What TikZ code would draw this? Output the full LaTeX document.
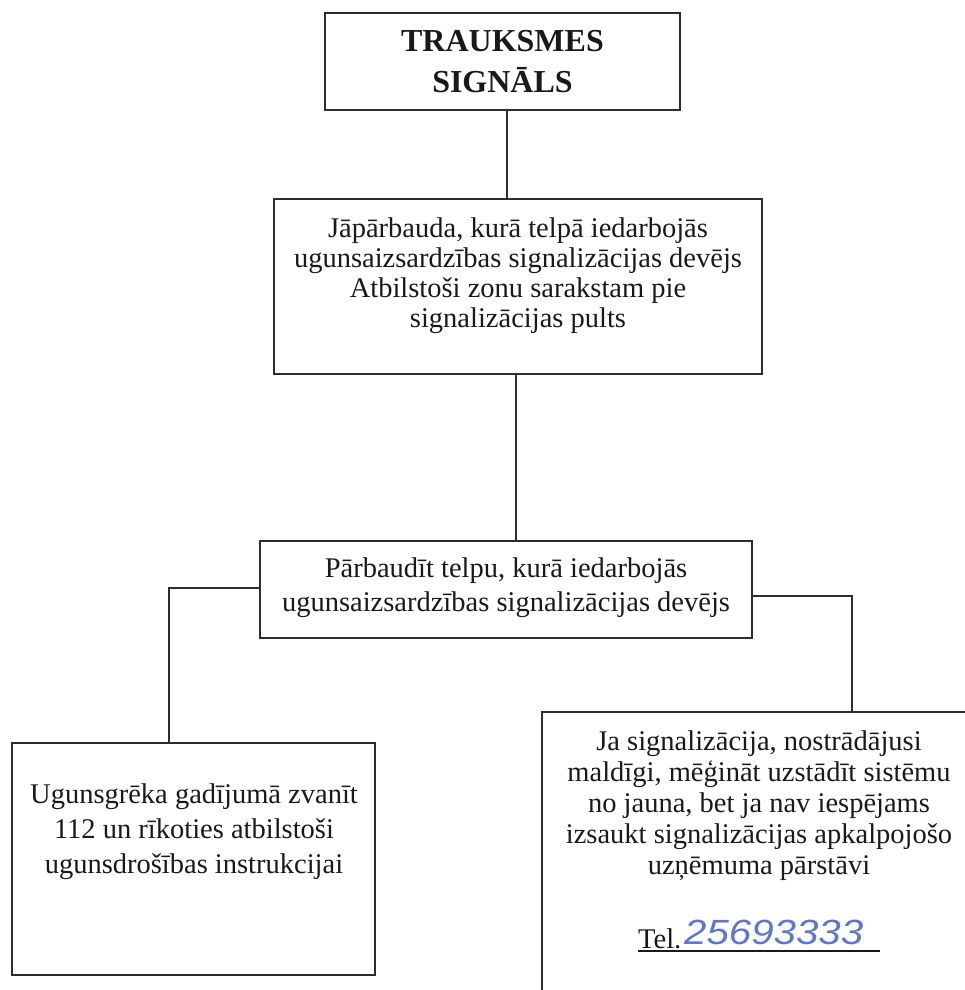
\documentclass[tikz,border=0pt]{standalone}
\usepackage{fontspec}
\usepackage{graphicx}
\setmainfont{Liberation Serif}
\newfontfamily\handfont{Liberation Sans}
\definecolor{ink}{RGB}{25,25,25}
\definecolor{frame}{RGB}{45,45,45}
\definecolor{pen}{RGB}{95,118,205}
\begin{document}
\begin{tikzpicture}[x=1pt,y=-1pt,
  box/.style={draw=frame, line width=1.8pt, inner sep=0pt, rectangle},
  txt/.style={align=center, text=ink, inner sep=0pt},
  body/.style={font=\fontsize{28.5}{#1}\selectfont},
  link/.style={draw=frame, line width=1.4pt}]
\useasboundingbox[fill=white] (0,0) rectangle (965,990);

% boxes
\node[box, txt, minimum width=355pt, minimum height=97pt,
      font=\bfseries\fontsize{32}{41.5}\selectfont] (alarm) at (502.5,61.5)
      {TRAUKSMES\\SIGNĀLS};
\node[box, minimum width=488pt, minimum height=175pt] (check) at (518,286.5) {};
\node[box, minimum width=492pt, minimum height=97pt] (room) at (506,589.5) {};
\node[box, minimum width=363pt, minimum height=232pt] (fire) at (193.5,859) {};
\node[box, minimum width=434pt, minimum height=300pt] (false) at (759,862) {};

% box texts
\node[txt, body=30] (checktxt) at (518,276)
  {Jāpārbauda, kurā telpā iedarbojās\\
   ugunsaizsardzības signalizācijas devējs\\
   Atbilstoši zonu sarakstam pie\\
   signalizācijas pults};
\node[txt, body=34] (roomtxt) at (506,587.4)
  {Pārbaudīt telpu, kurā iedarbojās\\
   ugunsaizsardzības signalizācijas devējs};
\node[txt, body=35] (firetxt) at (194,831.3)
  {Ugunsgrēka gadījumā zvanīt\\
   112 un rīkoties atbilstoši\\
   ugunsdrošības instrukcijai};
\node[txt, body=31] (falsetxt) at (759,805.3)
  {Ja signalizācija, nostrādājusi\\
   maldīgi, mēģināt uzstādīt sistēmu\\
   no jauna, bet ja nav iespējams\\
   izsaukt signalizācijas apkalpojošo\\
   uzņēmuma pārstāvi};

% phone line with handwritten number
\node[txt, body=31, anchor=base west] (tel) at (638,948) {Tel.};
\node[inner sep=0pt, anchor=base west, text=pen,
      font=\handfont\itshape\fontsize{35}{38}\selectfont] (phone) at (684,944)
      {\scalebox{1.15}[1]{25693333}};
\coordinate (ulstart) at (638,951);
\coordinate (ulend) at (880,951);
\draw[draw=ink, line width=1.5pt] (ulstart) -- (ulend);

% connectors
\draw[link] ([xshift=4.5pt]alarm.south) -- ([xshift=4.5pt]alarm.south |- check.north);
\draw[link] ([xshift=-2pt]check.south) -- ([xshift=-2pt]check.south |- room.north);
\draw[link] ([yshift=1.5pt]room.west) -| ([xshift=-24.5pt]fire.north);
\draw[link] ([yshift=-6.5pt]room.east) -| ([xshift=93pt]false.north);
\end{tikzpicture}
\end{document}
